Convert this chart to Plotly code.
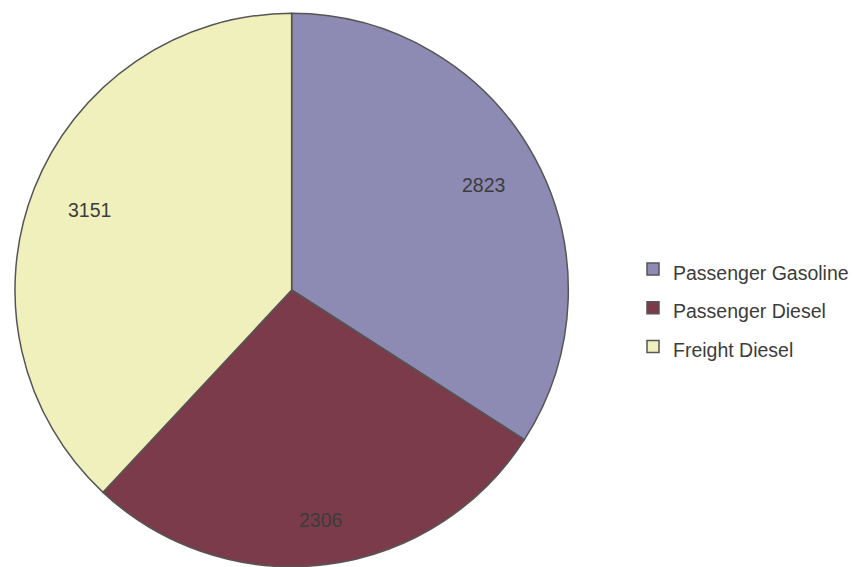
import numpy as np
import plotly.graph_objects as go

categories = ["Passenger Gasoline", "Passenger Diesel", "Freight Diesel"]
values = [2823, 2306, 3151]
colors = ["#8d8ab4", "#7b3b4b", "#eff0bb"]

W, H = 854, 567
cx, cy, r = 292, 290, 277
edge_frac = 0.87          # labels sit "inside end": box edge at this fraction of radius
lbl_size = 19.5
lbl_w, lbl_h = 44, 14     # approximate label box (px) for 4-digit labels

legend_labels = ["<span style='font-size:19.5px'>%s</span>" % c for c in categories]

fig = go.Figure(go.Pie(
    labels=legend_labels,
    values=values,
    sort=False,
    direction="clockwise",
    rotation=0,
    marker=dict(colors=colors, line=dict(color="#555555", width=1.5)),
    textinfo="none",
    domain=dict(x=[(cx - r) / W, (cx + r) / W],
                y=[max(0, 1 - (cy + r) / H), min(1, 1 - (cy - r) / H)]),
    hoverinfo="skip",
))

# value labels placed along each slice's mid-angle (clockwise from 12 o'clock)
vals = np.array(values, dtype=float)
cum = np.cumsum(vals) / vals.sum()
mid = (cum - vals / vals.sum() / 2) * 2 * np.pi
annotations = []
for v, a in zip(values, mid):
    d = edge_frac * r - (abs(np.sin(a)) * lbl_w / 2 + abs(np.cos(a)) * lbl_h / 2)
    px = cx + d * np.sin(a)
    py = cy - d * np.cos(a)
    annotations.append(dict(
        x=px / W, y=1 - py / H, xref="paper", yref="paper",
        text=str(v), showarrow=False, xanchor="center", yanchor="middle",
        font=dict(family="Liberation Sans, Arial, sans-serif", size=lbl_size, color="#3c3c3c"),
    ))

fig.update_layout(
    width=W, height=H,
    margin=dict(l=0, r=0, t=0, b=0),
    paper_bgcolor="white",
    plot_bgcolor="white",
    showlegend=True,
    annotations=annotations,
    legend=dict(
        x=634 / W, xanchor="left",
        y=1 - 308 / H, yanchor="middle",
        font=dict(family="Liberation Sans, Arial, sans-serif", size=27.5, color="#3c3c3c"),
        bgcolor="rgba(0,0,0,0)",
    ),
)

fig.write_html("out.html")
